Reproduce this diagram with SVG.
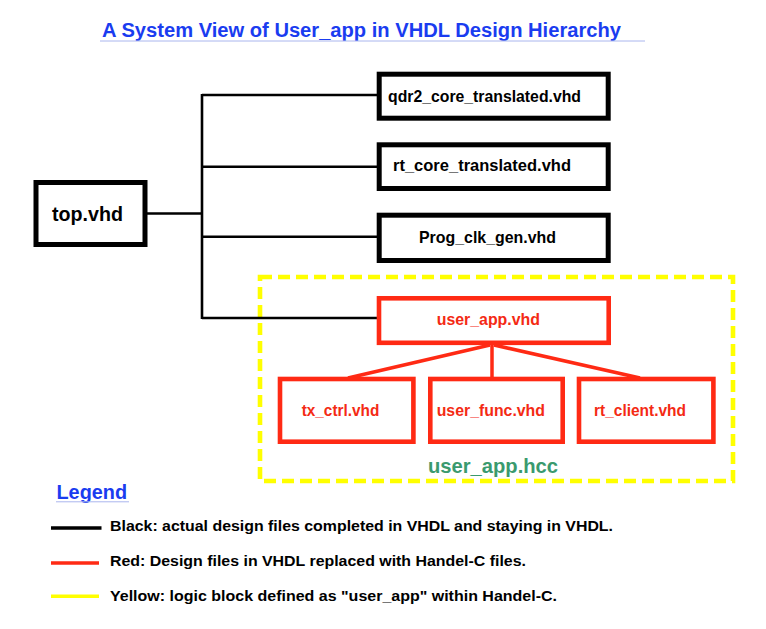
<svg xmlns="http://www.w3.org/2000/svg" width="766" height="629" viewBox="0 0 766 629">
<style>
text{font-family:"Liberation Sans",Arial,sans-serif;font-weight:bold;}
.bk{fill:#fff;stroke:#000;stroke-width:5;}
.rd{fill:#fff;stroke:#ff2a14;stroke-width:4.6;}
.t16{font-size:17px;fill:#000;}
.r16{font-size:17px;fill:#f42a14;}
.leg{font-size:15.5px;fill:#000;}
.cb{stroke:#000;stroke-width:2.6;fill:none;}
.cr{stroke:#ff2a14;stroke-width:3.5;fill:none;}
</style>
<rect width="766" height="629" fill="#fff"/>
<g id="title">
<text x="102" y="36.7" font-size="19.5" fill="#1a3cf0" textLength="519" lengthAdjust="spacingAndGlyphs">A System View of User_app in VHDL Design Hierarchy</text>
<line x1="100" y1="41" x2="645" y2="41" stroke="#aab6ee" stroke-width="1"/>
</g>
<g id="hcc">
<rect x="260" y="277" width="473" height="204" fill="none" stroke="#ffff00" stroke-width="4.6" stroke-dasharray="12 6"/>
<text x="428" y="473" font-size="21" fill="#3a9a6e" textLength="130" lengthAdjust="spacingAndGlyphs">user_app.hcc</text>
</g>
<g id="connectors">
<line class="cb" x1="147" y1="213.5" x2="202" y2="213.5"/>
<line class="cb" x1="202" y1="94" x2="202" y2="319"/>
<line class="cb" x1="202" y1="95" x2="378" y2="95"/>
<line class="cb" x1="202" y1="166.7" x2="378" y2="166.7"/>
<line class="cb" x1="202" y1="236.7" x2="378" y2="236.7"/>
<line class="cb" x1="202" y1="318" x2="378" y2="318"/>
<line class="cr" x1="490" y1="345" x2="348" y2="378"/>
<line class="cr" x1="492" y1="345" x2="492" y2="378"/>
<line class="cr" x1="494" y1="345" x2="640" y2="378"/>
</g>
<g id="top">
<rect class="bk" x="36" y="182.5" width="109" height="62"/>
<text x="52" y="221" font-size="21" fill="#000" textLength="71" lengthAdjust="spacingAndGlyphs">top.vhd</text>
</g>
<g id="qdr2">
<rect class="bk" x="379.2" y="74.2" width="229" height="44"/>
<text class="t16" x="388" y="101.7" textLength="193" lengthAdjust="spacingAndGlyphs">qdr2_core_translated.vhd</text>
</g>
<g id="rt_core">
<rect class="bk" x="379.2" y="144.8" width="229" height="43.7"/>
<text class="t16" x="393" y="171" textLength="178" lengthAdjust="spacingAndGlyphs">rt_core_translated.vhd</text>
</g>
<g id="prog_clk">
<rect class="bk" x="379.2" y="215.2" width="229" height="45.3"/>
<text class="t16" x="419" y="242.7" textLength="137" lengthAdjust="spacingAndGlyphs">Prog_clk_gen.vhd</text>
</g>
<g id="user_app">
<rect class="rd" x="379" y="298.3" width="229.7" height="44.5"/>
<text class="r16" x="436.7" y="325" textLength="103.3" lengthAdjust="spacingAndGlyphs">user_app.vhd</text>
</g>
<g id="tx_ctrl">
<rect class="rd" x="280" y="379" width="133.4" height="62.7"/>
<text class="r16" x="301.7" y="415.7" textLength="77.6" lengthAdjust="spacingAndGlyphs">tx_ctrl.vhd</text>
</g>
<g id="user_func">
<rect class="rd" x="430.3" y="379" width="132.4" height="62.7"/>
<text class="r16" x="436.7" y="415.7" textLength="108.3" lengthAdjust="spacingAndGlyphs">user_func.vhd</text>
</g>
<g id="rt_client">
<rect class="rd" x="579" y="379" width="134.4" height="62.7"/>
<text class="r16" x="594" y="415.7" textLength="92" lengthAdjust="spacingAndGlyphs">rt_client.vhd</text>
</g>
<g id="legend">
<text x="56.5" y="498.7" font-size="20" fill="#1a3cf0" textLength="70.5" lengthAdjust="spacingAndGlyphs">Legend</text>
<line x1="56" y1="501.8" x2="129" y2="501.8" stroke="#aab6ee" stroke-width="1"/>
<line x1="51" y1="528" x2="101.5" y2="528" stroke="#000" stroke-width="3.6"/>
<text class="leg" x="110" y="530.7" textLength="503" lengthAdjust="spacingAndGlyphs">Black: actual design files completed in VHDL and staying in VHDL.</text>
<line x1="51" y1="563" x2="99" y2="563" stroke="#ff2a14" stroke-width="3.6"/>
<text class="leg" x="110" y="566" textLength="416" lengthAdjust="spacingAndGlyphs">Red: Design files in VHDL replaced with Handel-C files.</text>
<line x1="51" y1="596.3" x2="99" y2="596.3" stroke="#ffff00" stroke-width="3.6"/>
<text class="leg" x="110" y="600.7" textLength="447" lengthAdjust="spacingAndGlyphs">Yellow: logic block defined as "user_app" within Handel-C.</text>
</g>
</svg>
